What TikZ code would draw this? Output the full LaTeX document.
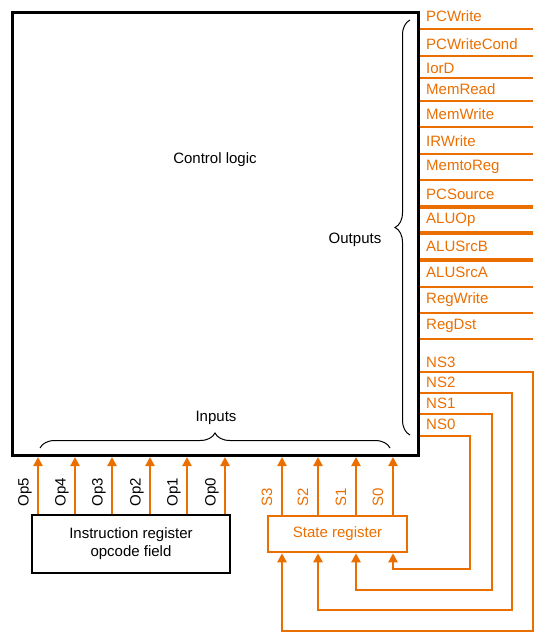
\documentclass[tikz,border=0pt]{standalone}
\usepackage{fontspec}
\setmainfont{Liberation Sans}
\usetikzlibrary{arrows.meta, decorations.pathreplacing, calc}
\definecolor{ctrlorange}{RGB}{235,110,0}

\begin{document}
\begin{tikzpicture}[x=1pt, y=-1pt, font=\fontsize{15}{18}\selectfont,
  sig/.style={draw=ctrlorange, line width=2.4pt},
  sigarrow/.style={sig, -{Triangle[width=9pt,length=9pt]}},
  outline/.style={draw=ctrlorange, line width=2pt},
  outlabel/.style={anchor=west, text=ctrlorange, inner sep=0pt},
  bitlabel/.style={rotate=90, inner sep=1pt},
  bracket/.style={draw, line width=1pt, decorate, decoration={brace, amplitude=15pt}}]
  \useasboundingbox (0,0) rectangle (547,643);

  \node[draw, line width=3pt, minimum width=406pt, minimum height=443pt, inner sep=0pt, anchor=north west] (ctrl) at (11,11) {};
  \node (ctrllabel) at (215,160) {Control logic};
  \node (outlab) at (355,240) {Outputs};
  \node (inlab) at (216,418) {Inputs};
  \draw[bracket] (410,435) -- (410,20);
  \draw[bracket] (40,448) -- (390,448);

  \foreach \ty/\ly/\name/\w in {16/29/PCWrite/2, 44/56/PCWriteCond/2, 68/78/IorD/2, 89/101/MemRead/2, 114/127/MemWrite/2, 141/154/IRWrite/2, 167/180/MemtoReg/2, 194/207/PCSource/4, 220/233/ALUOp/4, 246/260/ALUSrcB/4, 272/287/ALUSrcA/2, 300/313/RegWrite/2, 326/339/RegDst/2} {
    \node[outlabel] (out\name) at (426,\ty) {\name};
    \coordinate (end\name) at (533,\ly);
    \draw[outline, line width=\w pt] (ctrl.east |- end\name) -- (end\name);
  }

  \node[draw, line width=2.5pt, minimum width=198pt, minimum height=58pt, align=center] (ireg) at (131,544) {Instruction register\\opcode field};
  \node[draw=ctrlorange, line width=2.5pt, text=ctrlorange, minimum width=139pt, minimum height=36pt] (sreg) at (337.5,534) {State register};

  \foreach \n/\ox in {5/38, 4/75, 3/112, 2/150, 1/187, 0/225} {
    \coordinate (op\n) at (\ox,0);
    \draw[sigarrow] (ireg.north -| op\n) -- (ctrl.south -| op\n);
    \node[bitlabel] (oplab\n) at (\ox-13,492) {Op\n};
  }

  \foreach \n/\sx in {3/282, 2/318, 1/356, 0/393} {
    \coordinate (s\n) at (\sx,0);
    \draw[sigarrow] (sreg.north -| s\n) -- (ctrl.south -| s\n);
    \node[bitlabel, text=ctrlorange] (slab\n) at (\sx-15,497) {S\n};
  }

  \foreach \n/\ty/\ly/\vx/\by in {0/424/436/470/569, 1/403/414/492/590, 2/382/393/512/610, 3/362/372/533/631} {
    \node[outlabel] (ns\n) at (426,\ty) {NS\n};
    \coordinate (tap\n) at (\vx,\ly);
    \coordinate (turn\n) at (\vx,\by);
    \draw[sigarrow] (ctrl.east |- tap\n) -- (tap\n) -- (turn\n) -| (sreg.south -| s\n);
  }
\end{tikzpicture}
\end{document}
